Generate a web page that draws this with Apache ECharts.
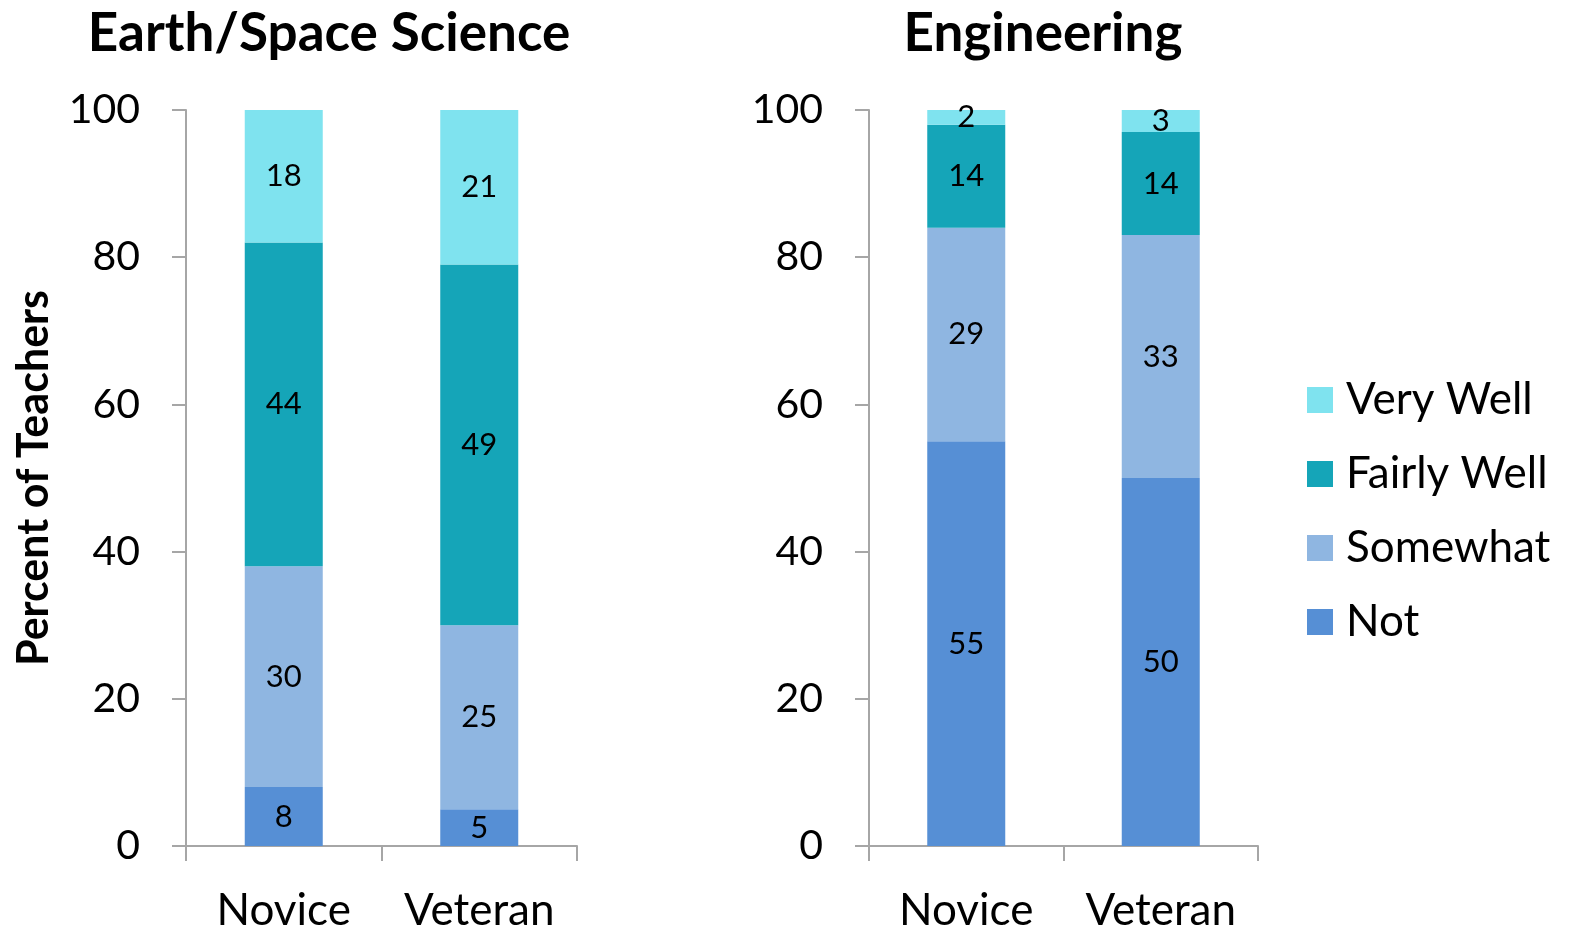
<!DOCTYPE html>
<html><head><meta charset="utf-8">
<script src="https://cdn.jsdelivr.net/npm/echarts@6/dist/echarts.min.js"></script>
<style>html,body{margin:0;padding:0;background:#fff}#c{width:1573px;height:930px}</style>
</head><body><div id="c"></div>
<script>
const categories = ['Novice', 'Veteran'];
const panelTitles = ['Earth/Space Science', 'Engineering'];
const levels = ['Not', 'Somewhat', 'Fairly Well', 'Very Well'];
const legendOrder = ['Very Well', 'Fairly Well', 'Somewhat', 'Not'];
const colors = {'Not': '#568fd5', 'Somewhat': '#8fb6e1', 'Fairly Well': '#15a5b8', 'Very Well': '#7fe3ef'};
// Earth/Space Science
const earthNot = [8, 5];
const earthSomewhat = [30, 25];
const earthFairly = [44, 49];
const earthVery = [18, 21];
// Engineering
const engNot = [55, 50];
const engSomewhat = [29, 33];
const engFairly = [14, 14];
const engVery = [2, 3];
const yTicks = [0, 20, 40, 60, 80, 100];

const FONT = 'Lato, "Open Sans", sans-serif';
const panels = [
  {data: [earthNot, earthSomewhat, earthFairly, earthVery]},
  {data: [engNot, engSomewhat, engFairly, engVery]}
];
const grids = [
  {left: 186, width: 391, top: 110, height: 736, outerBoundsMode: 'none', containLabel: false},
  {left: 869, width: 389, top: 110, height: 736, outerBoundsMode: 'none', containLabel: false}
];
const axisLineStyle = {color: '#a6a6a6', width: 2};
const xAxes = grids.map((g, i) => ({
  type: 'category', gridIndex: i, data: categories,
  axisLine: {lineStyle: axisLineStyle},
  axisTick: {show: true, length: 15, lineStyle: axisLineStyle},
  axisLabel: {fontSize: 44, color: '#000', fontFamily: FONT, margin: 43, interval: 0, hideOverlap: false}
}));
const yAxes = grids.map((g, i) => ({
  type: 'value', gridIndex: i, min: 0, max: 100, interval: 20,
  name: i === 0 ? 'Percent of Teachers' : '',
  nameLocation: 'middle', nameGap: 130, nameRotate: 90,
  nameTextStyle: {fontSize: 43, fontWeight: 'bold', color: '#000', fontFamily: FONT},
  axisLine: {show: true, lineStyle: axisLineStyle},
  axisTick: {show: true, length: 14, lineStyle: axisLineStyle},
  splitLine: {show: false},
  axisLabel: {fontSize: 41, color: '#000', fontFamily: FONT, margin: 46,
    formatter: v => yTicks.includes(v) ? String(v) : ''}
}));
const series = [];
panels.forEach((p, i) => {
  levels.forEach((lv, k) => {
    series.push({
      name: lv, type: 'bar', stack: 'p' + i, xAxisIndex: i, yAxisIndex: i,
      data: p.data[k], barWidth: 78,
      itemStyle: {color: colors[lv]},
      label: {show: true, position: 'inside', fontSize: 31, color: '#000', fontFamily: FONT},
      emphasis: {disabled: true}
    });
  });
});
const chart = echarts.init(document.getElementById('c'), null, {renderer: 'canvas'});
chart.setOption({
  animation: false,
  backgroundColor: '#fff',
  title: [
    {text: panelTitles[0], left: 329, top: 7, padding: 0, textAlign: 'center',
     textStyle: {fontSize: 53, fontWeight: 'bold', color: '#000', fontFamily: FONT}},
    {text: panelTitles[1], left: 1043, top: 7, padding: 0, textAlign: 'center',
     textStyle: {fontSize: 53, fontWeight: 'bold', color: '#000', fontFamily: FONT}}
  ],
  legend: {
    data: legendOrder, orient: 'vertical', left: 1307, top: 378,
    itemWidth: 26, itemHeight: 26, itemGap: 30, icon: 'rect', padding: 0,
    textStyle: {fontSize: 44, lineHeight: 44, color: '#000', fontFamily: FONT, padding: [0, 0, 0, 8]}
  },
  grid: grids,
  xAxis: xAxes,
  yAxis: yAxes,
  series: series
});
</script></body></html>
